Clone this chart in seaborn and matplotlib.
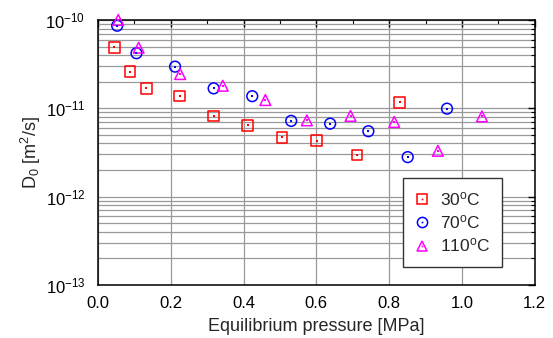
import numpy as np
import pandas as pd
import seaborn as sns
import matplotlib.pyplot as plt
from matplotlib.ticker import FixedLocator, MultipleLocator, NullFormatter
from matplotlib.legend_handler import HandlerTuple

# --- style ---
sns.set_style('white')
plt.rcParams['font.family'] = ['Liberation Sans', 'DejaVu Sans']
plt.rcParams['mathtext.fontset'] = 'custom'
plt.rcParams['mathtext.rm'] = 'Liberation Sans'
plt.rcParams['mathtext.it'] = 'Liberation Sans:italic'
plt.rcParams['mathtext.bf'] = 'Liberation Sans:bold'

# --- data ---
p_30 = [0.045, 0.088, 0.133, 0.225, 0.318, 0.411, 0.506, 0.601, 0.712, 0.829]
d_30 = [4.9e-11, 2.6e-11, 1.68e-11, 1.38e-11, 8.2e-12, 6.4e-12, 4.7e-12, 4.3e-12, 2.95e-12, 1.17e-11]

p_70 = [0.053, 0.106, 0.212, 0.318, 0.424, 0.531, 0.638, 0.743, 0.851, 0.959]
d_70 = [8.6e-11, 4.2e-11, 2.96e-11, 1.68e-11, 1.37e-11, 7.2e-12, 6.7e-12, 5.5e-12, 2.8e-12, 9.9e-12]

p_110 = [0.056, 0.112, 0.226, 0.343, 0.460, 0.574, 0.694, 0.814, 0.934, 1.055]
d_110 = [1.0e-10, 4.85e-11, 2.44e-11, 1.8e-11, 1.24e-11, 7.3e-12, 8.2e-12, 7.0e-12, 3.3e-12, 8.1e-12]

decades = [-13, -12, -11, -10]

labels = [r'30$^{\rm o}$C', r'70$^{\rm o}$C', r'110$^{\rm o}$C']
colors = ['#ff0000', '#0000ff', '#ff00ff']
markers = ['s', 'o', '^']
sizes = [60, 60, 60]

series = [(p_30, d_30), (p_70, d_70), (p_110, d_110)]

fig, ax = plt.subplots(figsize=(5.53, 3.38), dpi=100)
fig.subplots_adjust(left=0.177, right=0.967, top=0.941, bottom=0.157)

handles = []
for (p, d), lab, c, m, s in zip(series, labels, colors, markers, sizes):
    df = pd.DataFrame({'p': p, 'D': d})
    sns.scatterplot(data=df, x='p', y='D', ax=ax, marker=m, s=s,
                    facecolor='none', edgecolor=c, linewidth=1.1, zorder=3,
                    clip_on=False)
    sns.scatterplot(data=df, x='p', y='D', ax=ax, marker='s', s=1.5,
                    color=c, linewidth=0, zorder=4, clip_on=False)
    h1 = plt.Line2D([], [], ls='none', marker=m, ms=np.sqrt(s) * 0.95,
                    mfc='none', mec=c, mew=1.1)
    h2 = plt.Line2D([], [], ls='none', marker='s', ms=1.2, mfc=c, mec=c, mew=0)
    handles.append((h1, h2))

ax.set_yscale('log')
ax.set_xlim(0, 1.2)
ax.set_ylim(10.0 ** decades[0], 10.0 ** decades[-1])

ax.xaxis.set_major_locator(MultipleLocator(0.2))
ax.xaxis.set_minor_locator(MultipleLocator(0.1))
ax.xaxis.set_major_formatter(plt.FuncFormatter(lambda v, _: f'{v:.1f}'))

ax.yaxis.set_major_locator(FixedLocator([10.0 ** k for k in decades]))
ax.yaxis.set_major_formatter(plt.FuncFormatter(
    lambda v, _: r'$\mathregular{10^{%d}}$' % round(np.log10(v))))
minor = [m * 10.0 ** k for k in decades[:-1] for m in range(2, 10)]
ax.yaxis.set_minor_locator(FixedLocator(minor))
ax.yaxis.set_minor_formatter(NullFormatter())

ax.grid(True, which='major', axis='x', color='#999999', lw=0.9, zorder=0)
ax.grid(True, which='both', axis='y', color='#999999', lw=0.9, zorder=0)

ax.tick_params(which='both', direction='in', top=True, right=True,
               colors='black')
ax.tick_params(axis='x', labelsize=12, pad=8)
ax.tick_params(axis='y', labelsize=12, pad=9)
ax.tick_params(which='major', length=5, width=1)
ax.tick_params(which='minor', length=3, width=0.8)
for sp in ax.spines.values():
    sp.set_color('black')
    sp.set_linewidth(1.1)

ax.set_xlabel('Equilibrium pressure [MPa]', fontsize=13, labelpad=5)
ax.set_ylabel(r'D$_0$ [m$^2$/s]', fontsize=13, labelpad=2)

leg = ax.legend(handles, labels, handler_map={tuple: HandlerTuple(ndivide=1)},
                loc='lower left', bbox_to_anchor=(0.698, 0.068), fontsize=12.5,
                frameon=True, fancybox=False, framealpha=1, edgecolor='#333333',
                handlelength=0.8, handletextpad=0.63, borderpad=0.7,
                labelspacing=0.3, borderaxespad=0)
leg.get_frame().set_linewidth(1.0)

plt.savefig('out.png', dpi=100)
